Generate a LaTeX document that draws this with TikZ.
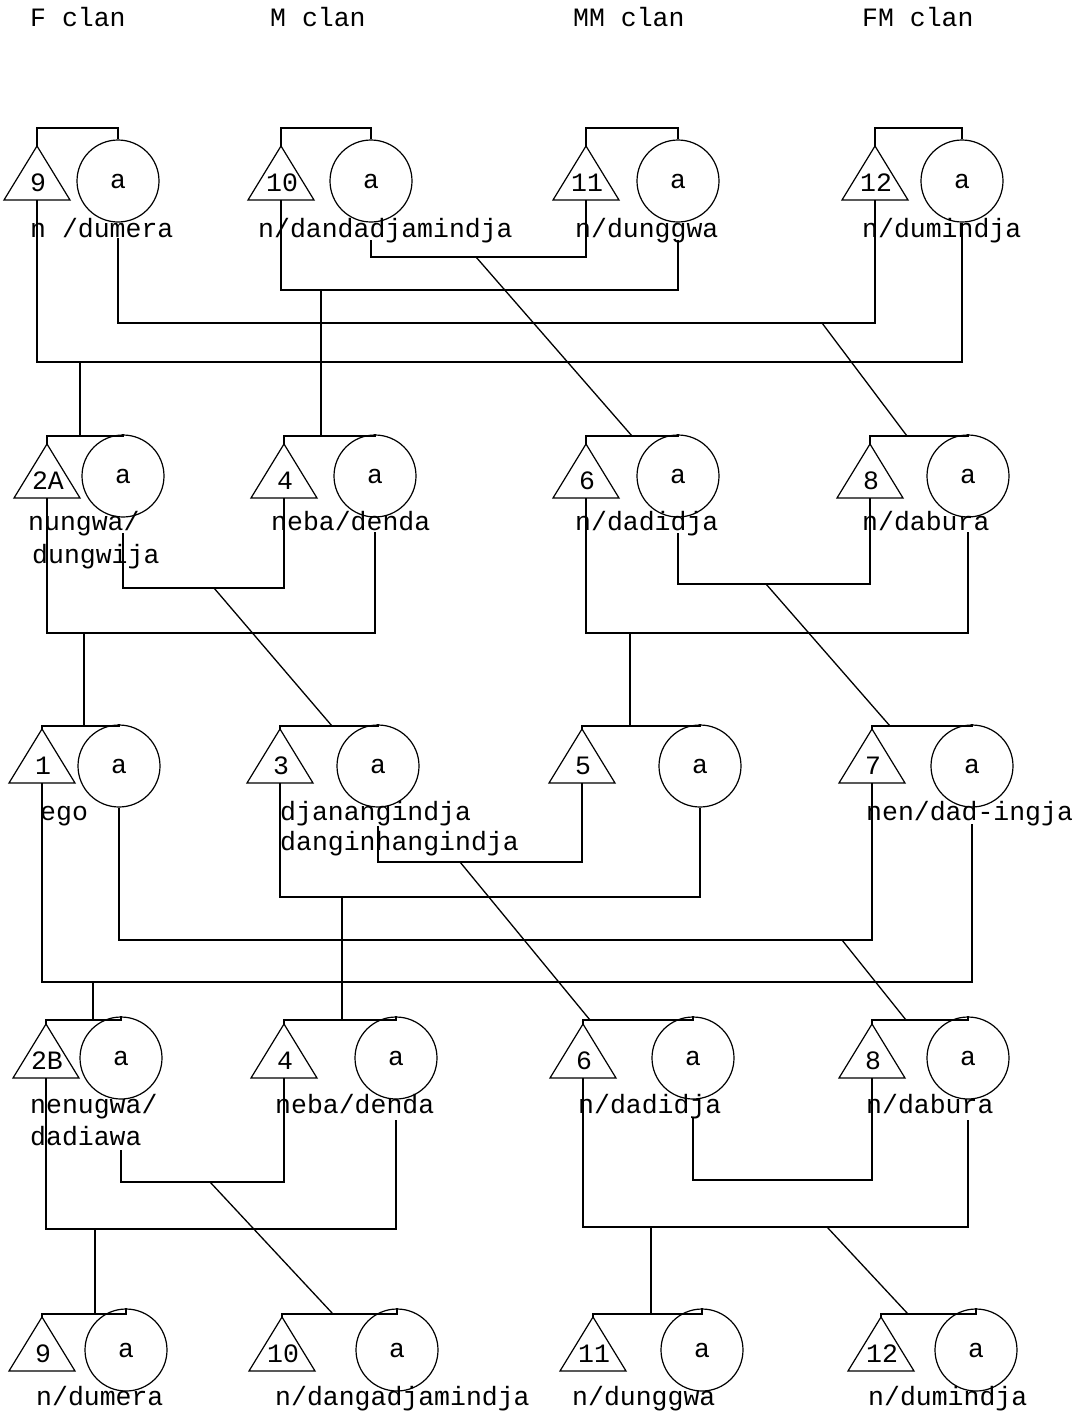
\documentclass[tikz,border=0pt]{standalone}
\usepackage{fontspec}
\setmainfont{Liberation Mono}
\begin{document}
\begin{tikzpicture}[x=1pt,y=-1pt,
  kin/.style={line width=1.3pt},
  fem/.style={draw,line width=1.2pt,circle,minimum size=82pt,inner sep=0pt},
  num/.style={inner sep=0pt},
  lab/.style={anchor=mid west,inner sep=0pt,yshift=-6pt},
  every node/.style={font=\fontsize{26.5}{30}\selectfont}]
\useasboundingbox (0,0) rectangle (1086,1414);
\newcommand\kinpair[7]{%
  \coordinate (#1A) at (#2,#5);
  \coordinate (#1b) at (#2,#5+54);
  \coordinate (#1B) at (#2,#4);
  \draw[kin,line width=1.2pt] (#2-33,#5+54) -- (#1A) -- (#2+33,#5+54) -- cycle;
  \node[num] (#1n) at (#2+1,#5+37) {#7};
  \node[fem] (#1c) at (#3,#6) {a};
  \draw[kin] (#1A) -- (#1B) -| (#1c.north);
}
% headers
\node[lab] (hF) at (30,18) {F clan};
\node[lab] (hM) at (270,18) {M clan};
\node[lab] (hMM) at (573,18) {MM clan};
\node[lab] (hFM) at (862,18) {FM clan};
% row 1
\kinpair{g1a}{37}{118}{128}{146}{181}{9}
\kinpair{g1b}{281}{371}{128}{146}{181}{10}
\kinpair{g1c}{586}{678}{128}{146}{181}{11}
\kinpair{g1d}{875}{962}{128}{146}{181}{12}
\node[lab] (l1a) at (30,229) {n /dumera};
\node[lab] (l1b) at (258,229) {n/dandadjamindja};
\node[lab] (l1c) at (575,229) {n/dunggwa};
\node[lab] (l1d) at (862,229) {n/dumindja};
% row 2
\kinpair{g2a}{47}{123}{436}{444}{476}{2A}
\kinpair{g2b}{284}{375}{436}{444}{476}{4}
\kinpair{g2c}{586}{678}{436}{444}{476}{6}
\kinpair{g2d}{870}{968}{436}{444}{476}{8}
\node[lab] (l2a) at (28,522) {nungwa/};
\node[lab] (l2a2) at (32,555) {dungwija};
\node[lab] (l2b) at (271,522) {neba/denda};
\node[lab] (l2c) at (575,522) {n/dadidja};
\node[lab] (l2d) at (862,522) {n/dabura};
% row 3
\kinpair{g3a}{42}{119}{726}{729}{766}{1}
\kinpair{g3b}{280}{378}{726}{729}{766}{3}
\kinpair{g3c}{582}{700}{726}{729}{766}{5}
\kinpair{g3d}{872}{972}{726}{729}{766}{7}
\node[lab] (l3a) at (40,812) {ego};
\node[lab] (l3b) at (280,812) {djanangindja};
\node[lab] (l3b2) at (280,842) {danginhangindja};
\node[lab] (l3d) at (866,812) {nen/dad-ingja};
% row 4
\kinpair{g4a}{46}{121}{1020}{1024}{1058}{2B}
\kinpair{g4b}{284}{396}{1020}{1024}{1058}{4}
\kinpair{g4c}{583}{693}{1020}{1024}{1058}{6}
\kinpair{g4d}{872}{968}{1020}{1024}{1058}{8}
\node[lab] (l4a) at (30,1105) {nenugwa/};
\node[lab] (l4a2) at (30,1137) {dadiawa};
\node[lab] (l4b) at (275,1105) {neba/denda};
\node[lab] (l4c) at (578,1105) {n/dadidja};
\node[lab] (l4d) at (866,1105) {n/dabura};
% row 5
\kinpair{g5a}{42}{126}{1314}{1317}{1350}{9}
\kinpair{g5b}{282}{397}{1314}{1317}{1350}{10}
\kinpair{g5c}{593}{702}{1314}{1317}{1350}{11}
\kinpair{g5d}{881}{976}{1314}{1317}{1350}{12}
\node[lab] (l5a) at (36,1397) {n/dumera};
\node[lab] (l5b) at (275,1397) {n/dangadjamindja};
\node[lab] (l5c) at (572,1397) {n/dunggwa};
\node[lab] (l5d) at (868,1397) {n/dumindja};
% ---- connectors row 1 -> 2
\draw[kin] (g1ab) -- (g1ab |- 0,362) -| (g1dc.south);
\coordinate (m1) at (80,362);
\draw[kin] (m1) -- (m1 |- g2aB);
\draw[kin] (g1ac |- 0,238) -- (g1ac |- 0,323) -| (g1db);
\coordinate (m2) at (822,323);
\draw[kin] (m2) -- (907,0 |- g2dB);
\draw[kin] (g1bb) -- (g1bb |- 0,290) -| (g1cc |- 0,240);
\coordinate (m15) at (321,290);
\draw[kin] (m15) -- (m15 |- g2bB);
\draw[kin] (g1bc |- 0,240) -- (g1bc |- 0,257) -| (g1cb);
\coordinate (m16) at (476,257);
\draw[kin] (m16) -- (632,0 |- g2cB);
% ---- row 2 -> 3
\draw[kin] (g2ab) -- (g2ab |- 0,633) -| (g2bc |- 0,532);
\coordinate (m3) at (84,633);
\draw[kin] (m3) -- (m3 |- g3aB);
\draw[kin] (g2ac |- 0,533) -- (g2ac |- 0,588) -| (g2bb);
\coordinate (m4) at (214,588);
\draw[kin] (m4) -- (332,0 |- g3bB);
\draw[kin] (g2cb) -- (g2cb |- 0,633) -| (g2dc |- 0,532);
\coordinate (m5) at (630,633);
\draw[kin] (m5) -- (m5 |- g3cB);
\draw[kin] (g2cc |- 0,533) -- (g2cc |- 0,584) -| (g2db);
\coordinate (m6) at (766,584);
\draw[kin] (m6) -- (890,0 |- g3dB);
% ---- row 3 -> 4
\draw[kin] (g3ab) -- (g3ab |- 0,982) -| (g3dc |- 0,824);
\coordinate (m7) at (93,982);
\draw[kin] (m7) -- (m7 |- g4aB);
\draw[kin] (g3ac.south) -- (g3ac |- 0,940) -| (g3db);
\coordinate (m8) at (842,940);
\draw[kin] (m8) -- (906,0 |- g4dB);
\draw[kin] (g3bb) -- (g3bb |- 0,897) -| (g3cc.south);
\coordinate (m9) at (342,897);
\draw[kin] (m9) -- (m9 |- g4bB);
\draw[kin] (g3bc |- 0,826) -- (g3bc |- 0,862) -| (g3cb);
\coordinate (m10) at (460,862);
\draw[kin] (m10) -- (590,0 |- g4cB);
% ---- row 4 -> 5
\draw[kin] (g4ab) -- (g4ab |- 0,1229) -| (g4bc |- 0,1120);
\coordinate (m11) at (95,1229);
\draw[kin] (m11) -- (m11 |- g5aB);
\draw[kin] (g4ac |- 0,1150) -- (g4ac |- 0,1182) -| (g4bb);
\coordinate (m12) at (210,1182);
\draw[kin] (m12) -- (333,0 |- g5bB);
\draw[kin] (g4cb) -- (g4cb |- 0,1227) -| (g4dc |- 0,1120);
\coordinate (m13) at (651,1227);
\draw[kin] (m13) -- (m13 |- g5cB);
\draw[kin] (g4cc |- 0,1118) -- (g4cc |- 0,1180) -| (g4db);
\coordinate (m14) at (827,1227);
\draw[kin] (m14) -- (908,0 |- g5dB);
\end{tikzpicture}
\end{document}
